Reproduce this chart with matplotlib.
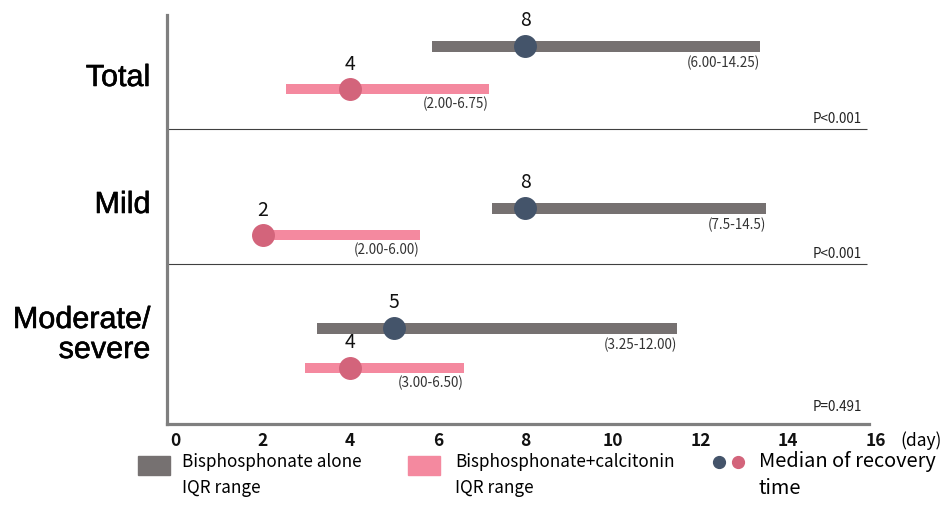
import matplotlib
matplotlib.use("Agg")
from matplotlib import pyplot as plt
from matplotlib.patches import Rectangle
from matplotlib.lines import Line2D
from matplotlib import patheffects

# dados (dias)
groups = ["Total", "Mild", "Moderate/\nsevere"]
alone_median = [8, 8, 5]
alone_low = [5.87, 7.24, 3.24]
alone_high = [13.36, 13.49, 11.46]
alone_iqr = ["(6.00-14.25)", "(7.5-14.5)", "(3.25-12.00)"]
combo_median = [4, 2, 4]
combo_low = [2.53, 2.1, 2.97]
combo_high = [7.17, 5.59, 6.6]
combo_iqr = ["(2.00-6.75)", "(2.00-6.00)", "(3.00-6.50)"]
p_values = ["P<0.001", "P<0.001", "P=0.491"]
ticks = list(range(0, 17, 2))

# layout (linhas em pixels a partir do topo)
alone_y = [46, 208, 328]
combo_y = [89, 235, 368]
sep_y = [129, 264]
group_y = [78, 205, 335]
p_y = [119, 254, 407]

GRAY = "#767171"
PINK = "#F4899F"
NAVY = "#44546A"
DPINK = "#D3647B"
FONT = ["Noto Sans CJK KR", "DejaVu Sans"]
plt.rcParams["font.family"] = FONT

W, H = 945, 520
figura = plt.figure(figsize=(W / 100, H / 100), dpi=100)


def fx(x):
    return x / W


def fy(y):
    return 1 - y / H


ax = figura.add_axes([fx(167), fy(424), fx(889) - fx(167), fy(15) - fy(424)])
ax.set_xlim(-0.183, 16.3)
ax.set_ylim(424, 15)

for s in ["top", "right"]:
    ax.spines[s].set_visible(False)
for s in ["left", "bottom"]:
    ax.spines[s].set_color("#7F7F7F")
    ax.spines[s].set_linewidth(2.3)
ax.spines["bottom"].set_bounds(-0.183, 15.85)

ax.set_xticks(ticks)
ax.set_xticklabels([str(t) for t in ticks])
ax.tick_params(axis="x", length=0, pad=6, labelsize=12.5, labelcolor="#111111")
for lb in ax.get_xticklabels():
    lb.set_fontweight("bold")
ax.set_yticks([])

for y in sep_y:
    ax.plot([-0.183, 15.8], [y, y], color="#404040", lw=0.8, solid_capstyle="butt")

for i in range(len(groups)):
    # bisphosphonate alone
    ax.barh(alone_y[i], alone_high[i] - alone_low[i], left=alone_low[i],
            height=11, color=GRAY)
    ax.plot(alone_median[i], alone_y[i], "o", color=NAVY, ms=15.5)
    ax.text(alone_median[i], alone_y[i] - 26, str(alone_median[i]),
            ha="center", va="center", fontsize=14, color="#111111")
    ax.text(alone_high[i], alone_y[i] + 17, alone_iqr[i],
            ha="right", va="center", fontsize=9.7, color="#333333")
    # bisphosphonate + calcitonin
    ax.barh(combo_y[i], combo_high[i] - combo_low[i], left=combo_low[i],
            height=10, color=PINK)
    ax.plot(combo_median[i], combo_y[i], "o", color=DPINK, ms=15.5)
    ax.text(combo_median[i], combo_y[i] - 25, str(combo_median[i]),
            ha="center", va="center", fontsize=14, color="#111111")
    ax.text(combo_high[i], combo_y[i] + 15, combo_iqr[i],
            ha="right", va="center", fontsize=9.7, color="#333333")
    # p valor
    ax.text(15.68, p_y[i], p_values[i], ha="right", va="center",
            fontsize=9.7, color="#222222")
    # nome do grupo
    figura.text(fx(150), fy(group_y[i]), groups[i], ha="right", va="center",
                fontsize=22, family="Liberation Sans", linespacing=1.0,
                path_effects=[patheffects.withStroke(linewidth=0.4,
                                                     foreground="black")])

figura.text(fx(900), fy(441), "(day)", ha="left", va="center", fontsize=12.5)

# legenda
figura.add_artist(Rectangle((fx(138), fy(475)), fx(32), 19 / H, color=GRAY,
                            transform=figura.transFigure))
figura.text(fx(182), fy(462), "Bisphosphonate alone", fontsize=12.3, va="center")
figura.text(fx(182), fy(488), "IQR range", fontsize=12.3, va="center")
figura.add_artist(Rectangle((fx(408), fy(475)), fx(32), 19 / H, color=PINK,
                            transform=figura.transFigure))
figura.text(fx(455), fy(462), "Bisphosphonate+calcitonin", fontsize=12.3, va="center")
figura.text(fx(455), fy(488), "IQR range", fontsize=12.3, va="center")
figura.add_artist(Line2D([fx(719)], [fy(462)], marker="o", ms=8.5, color=NAVY,
                         transform=figura.transFigure))
figura.add_artist(Line2D([fx(738)], [fy(462)], marker="o", ms=8.5, color=DPINK,
                         transform=figura.transFigure))
figura.text(fx(759), fy(462), "Median of recovery", fontsize=14.4, va="center")
figura.text(fx(759), fy(489), "time", fontsize=14.4, va="center")

figura.savefig("out.png", dpi=100)
